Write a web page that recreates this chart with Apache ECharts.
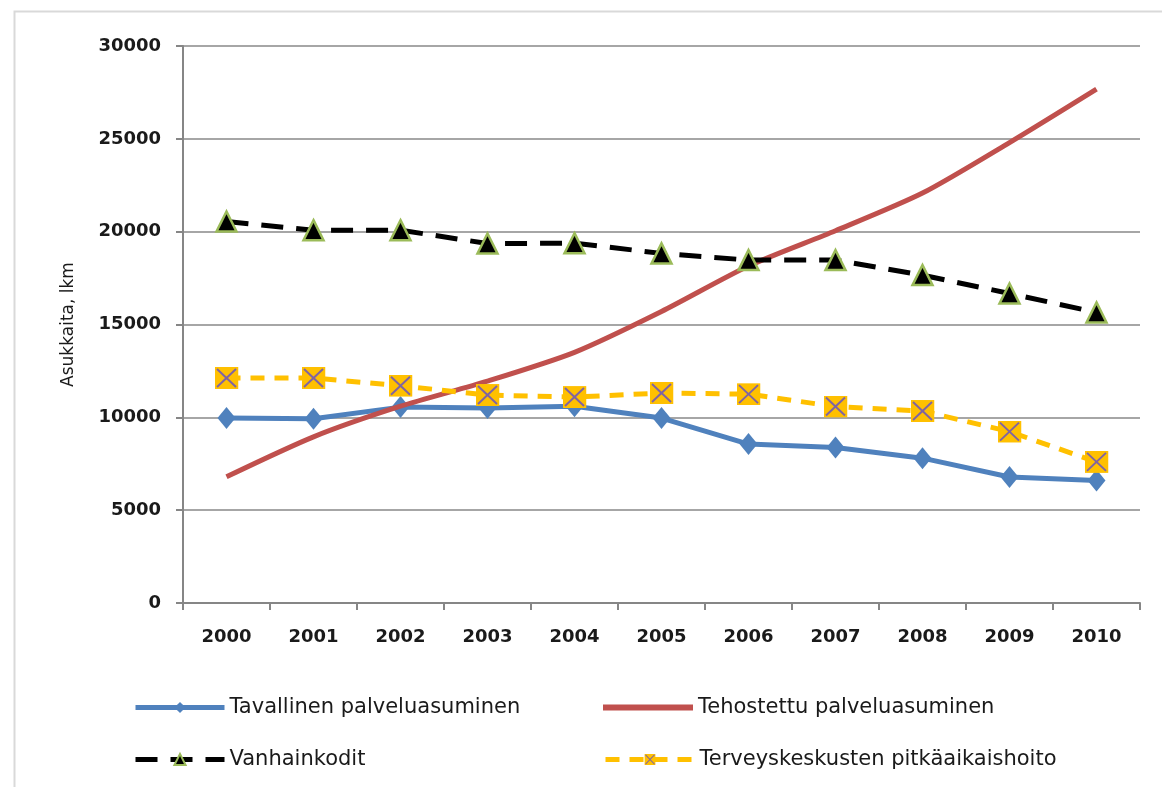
<!DOCTYPE html>
<html>
<head>
<meta charset="utf-8">
<script src="https://cdn.jsdelivr.net/npm/echarts@6/dist/echarts.min.js"></script>
<style>
  html, body { margin: 0; padding: 0; background: #fff; }
  #chart { width: 1162px; height: 787px; }
</style>
</head>
<body>
<div id="chart"></div>
<script>
const years = ['2000','2001','2002','2003','2004','2005','2006','2007','2008','2009','2010'];
const tavallinen = [9960, 9920, 10550, 10500, 10600, 9960, 8560, 8380, 7800, 6790, 6600];
const tehostettu = [6800, 8950, 10600, 11950, 13500, 15700, 18150, 20050, 22080, 24800, 27680];
const vanhainkodit = [20550, 20080, 20080, 19360, 19380, 18830, 18470, 18470, 17660, 16670, 15650];
const terveyskeskus = [12120, 12120, 11700, 11200, 11090, 11310, 11250, 10580, 10340, 9230, 7600];
const seriesNames = ['Tavallinen palveluasuminen', 'Tehostettu palveluasuminen', 'Vanhainkodit', 'Terveyskeskusten pitkäaikaishoito'];
const yTicks = { min: 0, max: 30000, interval: 5000 };

const sqX = 'image://data:image/svg+xml;charset=utf-8,' + encodeURIComponent(
  '<svg xmlns="http://www.w3.org/2000/svg" width="48" height="44" viewBox="0 0 48 44">' +
  '<rect x="0" y="0" width="48" height="44" fill="#FFC000"/>' +
  '<line x1="5" y1="4" x2="43" y2="40" stroke="#8064A2" stroke-width="4"/>' +
  '<line x1="43" y1="4" x2="5" y2="40" stroke="#8064A2" stroke-width="4"/>' +
  '</svg>');

const chart = echarts.init(document.getElementById('chart'), null, { renderer: 'canvas' });
const font = 'DejaVu Sans';
function legendOf(name, left, top, extra) {
  return Object.assign({
    data: [name], left: left, top: top, orient: 'horizontal',
    itemWidth: 89, itemHeight: 14, itemGap: 10,
    lineStyle: { width: 5 },
    textStyle: { fontFamily: font, fontSize: 21, color: '#1a1a1a' }
  }, extra || {});
}

chart.setOption({
  animation: false,
  backgroundColor: '#fff',
  graphic: [{ type: 'rect', left: 12, top: 9, shape: { width: 1200, height: 820 },
    style: { fill: 'none', stroke: '#D9D9D9', lineWidth: 2 }, z: -10 }],
  grid: { left: 183, top: 46, right: 22, bottom: 184, containLabel: false },
  legend: [
    legendOf(seriesNames[0], 128, 692),
    legendOf(seriesNames[1], 598, 692, { data: [{ name: seriesNames[1], icon: 'rect' }], itemHeight: 6, itemWidth: 90 }),
    legendOf(seriesNames[2], 128, 744),
    legendOf(seriesNames[3], 598, 744)
  ],
  xAxis: {
    type: 'category', data: years, boundaryGap: true,
    axisLine: { lineStyle: { color: '#868686', width: 2 } },
    axisTick: { show: true, length: 7, lineStyle: { color: '#868686', width: 2 } },
    axisLabel: { fontFamily: font, fontWeight: 'bold', fontSize: 18, color: '#1a1a1a', margin: 25 }
  },
  yAxis: {
    type: 'value', min: yTicks.min, max: yTicks.max, interval: yTicks.interval,
    name: 'Asukkaita, lkm', nameLocation: 'middle', nameRotate: 90, nameGap: 106,
    nameTextStyle: { fontFamily: font, fontSize: 17, color: '#1a1a1a' },
    axisLine: { show: true, lineStyle: { color: '#868686', width: 2 } },
    axisTick: { show: true, length: 7, lineStyle: { color: '#868686', width: 2 } },
    axisLabel: { fontFamily: font, fontWeight: 'bold', fontSize: 18, color: '#1a1a1a', margin: 22,
      formatter: function (v) { return String(v); } },
    splitLine: { show: true, lineStyle: { color: '#A6A6A6', width: 2 } }
  },
  series: [
    { name: seriesNames[0], type: 'line', data: tavallinen, z: 2,
      symbol: 'diamond', symbolSize: [18, 22], showAllSymbol: true,
      lineStyle: { color: '#4F81BD', width: 5 }, itemStyle: { color: '#4F81BD' } },
    { name: seriesNames[1], type: 'line', data: tehostettu, z: 3, smooth: 0.25,
      symbol: 'none', lineStyle: { color: '#C0504D', width: 5 }, itemStyle: { color: '#C0504D' } },
    { name: seriesNames[2], type: 'line', data: vanhainkodit, z: 4,
      symbol: 'triangle', symbolSize: [20, 20], showAllSymbol: true,
      lineStyle: { color: '#000', width: 5, type: [22, 13] },
      itemStyle: { color: '#000', borderColor: '#9BBB59', borderWidth: 2.5 } },
    { name: seriesNames[3], type: 'line', data: terveyskeskus, z: 5,
      symbol: sqX, symbolSize: [24, 22], showAllSymbol: true,
      lineStyle: { color: '#FFC000', width: 5, type: [14, 10] }, itemStyle: { color: '#FFC000' } }
  ]
});
</script>
</body>
</html>
